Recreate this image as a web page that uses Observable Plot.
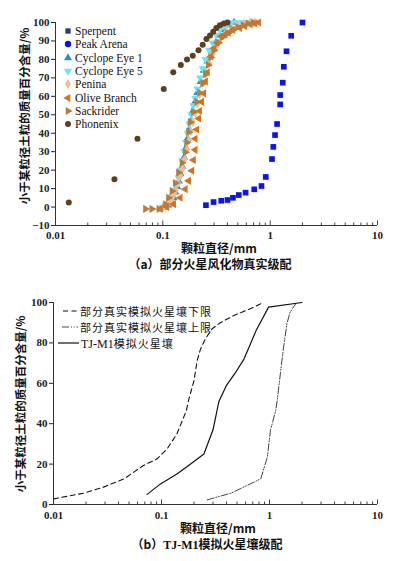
<!DOCTYPE html>
<html><head><meta charset="utf-8">
<script src="https://cdn.jsdelivr.net/npm/d3@7"></script>
<script src="https://cdn.jsdelivr.net/npm/@observablehq/plot@0.6"></script>
<style>
body{margin:0;background:#fff;}
#wrap{position:relative;width:398px;height:561px;overflow:hidden;background:#fff;font-family:"Liberation Serif","Times New Roman",Times,"DejaVu Serif",serif;color:#111;}
.abs{position:absolute;white-space:nowrap;}
.cjk{font-family:"Noto Sans CJK SC",sans-serif;}
.ser{font-family:"Liberation Serif","Times New Roman",Times,serif;}
.vlab{transform:translate(-50%,-50%) rotate(-90deg);font-size:11.5px;font-weight:bold;line-height:13px;}
.ctr{transform:translate(-50%,-50%);line-height:14px;}
.bold{font-weight:bold;}
svg{overflow:visible;}
</style></head><body><div id="wrap"></div>
<script>
// ---------- Chart (a) data: diameter (mm) / percent finer ----------
const seriesNamesA = ["Sperpent","Peak Arena","Cyclope Eye 1","Cyclope Eye 5","Penina","Olive Branch","Sackrider","Phonenix"];
const sperpentX = [];
const sperpentY = [];
const peakArenaX = [0.252,0.297,0.35,0.40,0.45,0.51,0.59,0.71,0.83,0.91,1.04,1.07,1.11,1.16,1.24,1.24,1.31,1.34,1.42,1.57,2.0];
const peakArenaY = [1,2.7,3.4,3.8,5,6.5,7.8,9.6,11.4,16.3,26,32.6,39,45,55.6,60.7,67.4,76,84.4,92.8,100];
const eye1X = [0.105,0.113,0.12,0.126,0.131,0.136,0.141,0.146,0.152,0.158,0.164,0.17,0.176,0.183,0.19,0.2,0.21,0.225,0.24,0.26,0.285,0.31,0.34,0.37,0.41,0.46];
const eye1Y = [0,1,3,5,8,11,14,18,22,27,32,37,42,47,52,57,62,68,74,79,84,89,93,96,98.5,100];
const eye5X = [0.1,0.108,0.115,0.122,0.128,0.134,0.14,0.146,0.152,0.158,0.164,0.17,0.177,0.184,0.192,0.2,0.21,0.222,0.235,0.25,0.27,0.29,0.315,0.34,0.37,0.4,0.44,0.49,0.55,0.62,0.7];
const eye5Y = [0,1,3,6,9,12,16,20,25,30,35,40,45,50,55,59,64,70,75,80,85,89,93,96,98,99,100,100,100,100,100];
const peninaX = [0.1,0.11,0.118,0.125,0.132,0.139,0.146,0.153,0.16,0.167,0.175,0.183,0.19,0.2,0.21,0.22,0.235,0.25,0.27,0.29,0.32,0.35,0.39,0.44,0.5,0.57,0.65,0.72];
const peninaY = [0,1,3,6,9,13,17,21,26,31,36,41,46,51,56,61,67,72,78,83,88,92,95,97,98.5,99.5,100,100];
const oliveX = [0.095,0.109,0.126,0.145,0.162,0.174,0.186,0.193,0.2,0.2,0.207,0.216,0.22,0.23,0.24,0.25,0.26,0.28,0.3,0.32,0.35,0.38,0.41,0.45,0.52,0.58,0.65,0.72,0.78];
const oliveY = [-1,0,1.5,5,9.7,14.2,19.7,25.5,31,37,42,48,52,57,61.6,68,73,81.6,86,89,92.5,93.5,94.5,96,97,98,99,99.5,100];
const sackX = [0.069,0.079,0.092,0.106,0.113,0.122,0.131,0.14,0.151,0.162,0.167,0.174,0.18,0.193,0.207,0.22,0.235,0.25,0.265,0.28,0.3,0.33,0.36,0.4,0.45,0.5,0.56,0.62,0.7];
const sackY = [-1,-1,-1,1.5,5,8.7,13,18.7,24,29.7,35,40.6,46,51.5,57,62,67,72,77,81,85,89,92,94,96,97.5,98.5,99.5,100];
const phoenixX = [0.0133,0.0354,0.058,0.102,0.125,0.147,0.168,0.19,0.215,0.235,0.255,0.275,0.295,0.315,0.34,0.37,0.4];
const phoenixY = [2.5,15,37,64,73,77,80,82,85,88,91,93,95,97,98.5,99.5,100];
const yTicksA = [-10,0,10,20,30,40,50,60,70,80,90,100];

// ---------- Chart (b) data ----------
const lineNamesB = ["部分真实模拟火星壤下限","部分真实模拟火星壤上限","TJ-M1模拟火星壤"];
const lowerX = [0.01,0.019,0.029,0.045,0.068,0.091,0.113,0.139,0.17,0.178,0.2,0.214,0.23,0.255,0.295,0.35,0.47,0.67,0.88];
const lowerY = [2.8,5.6,8.6,12.7,19.3,22.6,27.6,35,46.5,51.5,61.4,71.3,77,82,87,90,93.6,97,100];
const upperX = [0.265,0.44,0.83,0.955,1.02,1.14,1.18,1.26,1.35,1.45,1.55,1.75];
const upperY = [2.3,5.6,12.7,23.4,36.6,46.5,51.5,64.7,77.9,89.5,95.2,99.4];
const tjX = [0.0736,0.098,0.14,0.186,0.247,0.3,0.34,0.4,0.48,0.58,0.66,0.75,0.98,2.0];
const tjY = [5,10.2,15.2,20.1,25,37,51,59,65,72,79,86,97.7,100];
const yTicksB = [0,20,40,60,80,100];

const xTicks = [0.01,0.1,1,10];
const xTickLabels = ["0.01","0.1","1","10"];
const minorTicks = [];
for (const dec of [0.01,0.1,1]) for (let k=2;k<=9;k++) minorTicks.push(+(dec*k).toPrecision(3));

// ---------- helpers ----------
const zip = (xs, ys) => xs.map((x,i)=>({x, y: ys[i]}));
function tri(angle){
  return {draw(ctx,size){
    const y=-Math.sqrt(size/(Math.sqrt(3)*3));
    const pts=[[0,2*y],[-Math.sqrt(3)*y,-y],[Math.sqrt(3)*y,-y]];
    const a=angle*Math.PI/180;
    pts.forEach(([px,py],i)=>{const X=px*Math.cos(a)-py*Math.sin(a), Y=px*Math.sin(a)+py*Math.cos(a); i?ctx.lineTo(X,Y):ctx.moveTo(X,Y);});
    ctx.closePath();
  }};
}
const styleA = [
  {data: zip(sperpentX,sperpentY), color:"#1f3d80", sym:d3.symbolSquare, legendSym:d3.symbolSquare, r:3},
  {data: zip(peakArenaX,peakArenaY), color:"#0c14ee", sym:d3.symbolSquare, legendSym:d3.symbolCircle, r:3.2},
  {data: zip(eye1X,eye1Y), color:"#2b8ed4", sym:tri(0), legendSym:tri(0), r:3},
  {data: zip(eye5X,eye5Y), color:"#6fe3f0", sym:tri(180), legendSym:tri(180), r:3},
  {data: zip(peninaX,peninaY), color:"#f6b98c", sym:d3.symbolDiamond, legendSym:d3.symbolDiamond, r:3},
  {data: zip(oliveX,oliveY), color:"#d8711e", sym:tri(-90), legendSym:tri(-90), r:3},
  {data: zip(sackX,sackY), color:"#b57c3e", sym:tri(90), legendSym:tri(90), r:3},
  {data: zip(phoenixX,phoenixY), color:"#5d3f20", sym:d3.symbolCircle, legendSym:d3.symbolCircle, r:3}
];

const wrap = document.getElementById("wrap");
function place(el, left, top){ el.style.left=left+"px"; el.style.top=top+"px"; el.classList.add("abs"); wrap.appendChild(el); return el; }
function div(html, cls){ const d=document.createElement("div"); d.innerHTML=html; if(cls) d.className=cls; return d; }

const axisStyle = {fontFamily:"'Liberation Serif', 'Times New Roman', Times, serif", fontSize:"11px", fontWeight:"bold", color:"#222", background:"transparent", overflow:"visible"};
const fmtX = d => xTickLabels[xTicks.indexOf(d)];

// ---------- Chart (a) ----------
const plotA = Plot.plot({
  width:398, height:242, marginTop:22, marginBottom:17, marginLeft:55, marginRight:21,
  style: axisStyle,
  x:{type:"log", domain:[0.01,10]},
  y:{domain:[-10,100]},
  marks:[
    Plot.axisY(yTicksA, {tickSize:4, tickPadding:2, label:null}),
    Plot.axisX(xTicks, {tickSize:0, tickPadding:6, label:null, tickFormat:fmtX}),
    Plot.axisX(minorTicks, {tickSize:-2.5, fill:"none", label:null, stroke:"#444"}),
    Plot.axisX(xTicks, {tickSize:-4.5, fill:"none", label:null, stroke:"#444"}),
    Plot.ruleX([0.01], {stroke:"#333"}),
    Plot.ruleY([-10], {stroke:"#333"}),
    ...styleA.map(s => Plot.dot(s.data, {x:"x", y:"y", symbol:s.sym, r:s.r, fill:s.color, stroke:"none"}))
  ]
});
place(plotA, 0, 0);

// legend (a)
seriesNamesA.forEach((name,i)=>{
  const s = styleA[i];
  const p = d3.symbol(s.legendSym, s.r*s.r*Math.PI)();
  const row = div(`<svg width="10" height="10" style="position:absolute;left:-12px;top:-5px"><path d="${p}" transform="translate(5,5)" fill="${s.color}"/></svg><span class="ser" style="position:absolute;left:0;top:-6px;font-size:11.5px;line-height:12px">${name}</span>`);
  place(row, 75, 31+13.3*i);
});

place(div("小于某粒径土粒的质量百分含量/%","cjk vlab"), 24, 116);
place(div("颗粒直径/mm","cjk ctr bold"), 219, 248).style.fontSize="12px";
place(div("（a）部分火星风化物真实级配","cjk ctr bold"), 210, 264).style.fontSize="12px";

// ---------- Chart (b) ----------
const dashes = ["5,3.5","7,2,1,1.5,1,2",null];
const widths = [1.1,0.8,1.2];
const linesB = [zip(lowerX,lowerY), zip(upperX,upperY), zip(tjX,tjY)];
const plotB = Plot.plot({
  width:398, height:233, marginTop:12, marginBottom:19, marginLeft:53, marginRight:21,
  style: axisStyle,
  x:{type:"log", domain:[0.01,10]},
  y:{domain:[0,100]},
  marks:[
    Plot.axisY(yTicksB, {tickSize:4, tickPadding:2, label:null}),
    Plot.axisX(xTicks, {tickSize:0, tickPadding:7, label:null, tickFormat:fmtX}),
    Plot.axisX(minorTicks, {tickSize:-2.5, fill:"none", label:null, stroke:"#444"}),
    Plot.axisX(xTicks, {tickSize:-4.5, fill:"none", label:null, stroke:"#444"}),
    Plot.ruleX([0.01], {stroke:"#333"}),
    Plot.ruleY([0], {stroke:"#333"}),
    ...linesB.map((d,i)=>Plot.line(d, {x:"x", y:"y", stroke:"#111", strokeWidth:widths[i], strokeDasharray:dashes[i]}))
  ]
});
place(plotB, 0, 290);

// legend (b)
const legBpos = [[63,310.5,80],[62,326.5,80],[58,342.5,81]];
lineNamesB.forEach((name,i)=>{
  const [lx,ly,tx] = legBpos[i];
  const w = tx-lx-2;
  const row = div(`<svg width="${w}" height="4" style="position:absolute;left:${lx}px;top:-2px"><line x1="0" y1="2" x2="${w}" y2="2" stroke="#111" stroke-width="${widths[i]}" ${dashes[i]?`stroke-dasharray="${dashes[i]}"`:""}/></svg><span class="cjk" style="position:absolute;left:${tx}px;top:-6px;font-size:11px;letter-spacing:1px;line-height:12px;white-space:nowrap">${name.replace("TJ-M1","<span class='ser' style='letter-spacing:0;font-size:12px'>TJ-M1</span>")}</span>`);
  place(row, 0, ly);
});

place(div("小于某粒径土粒的质量百分含量/%","cjk vlab"), 20, 404);
place(div("颗粒直径/mm","cjk ctr bold"), 218, 528).style.fontSize="12px";
place(div("（b）<span class='ser'>TJ-M1</span>模拟火星壤级配","cjk ctr bold"), 207, 544).style.fontSize="12px";
</script></body></html>
